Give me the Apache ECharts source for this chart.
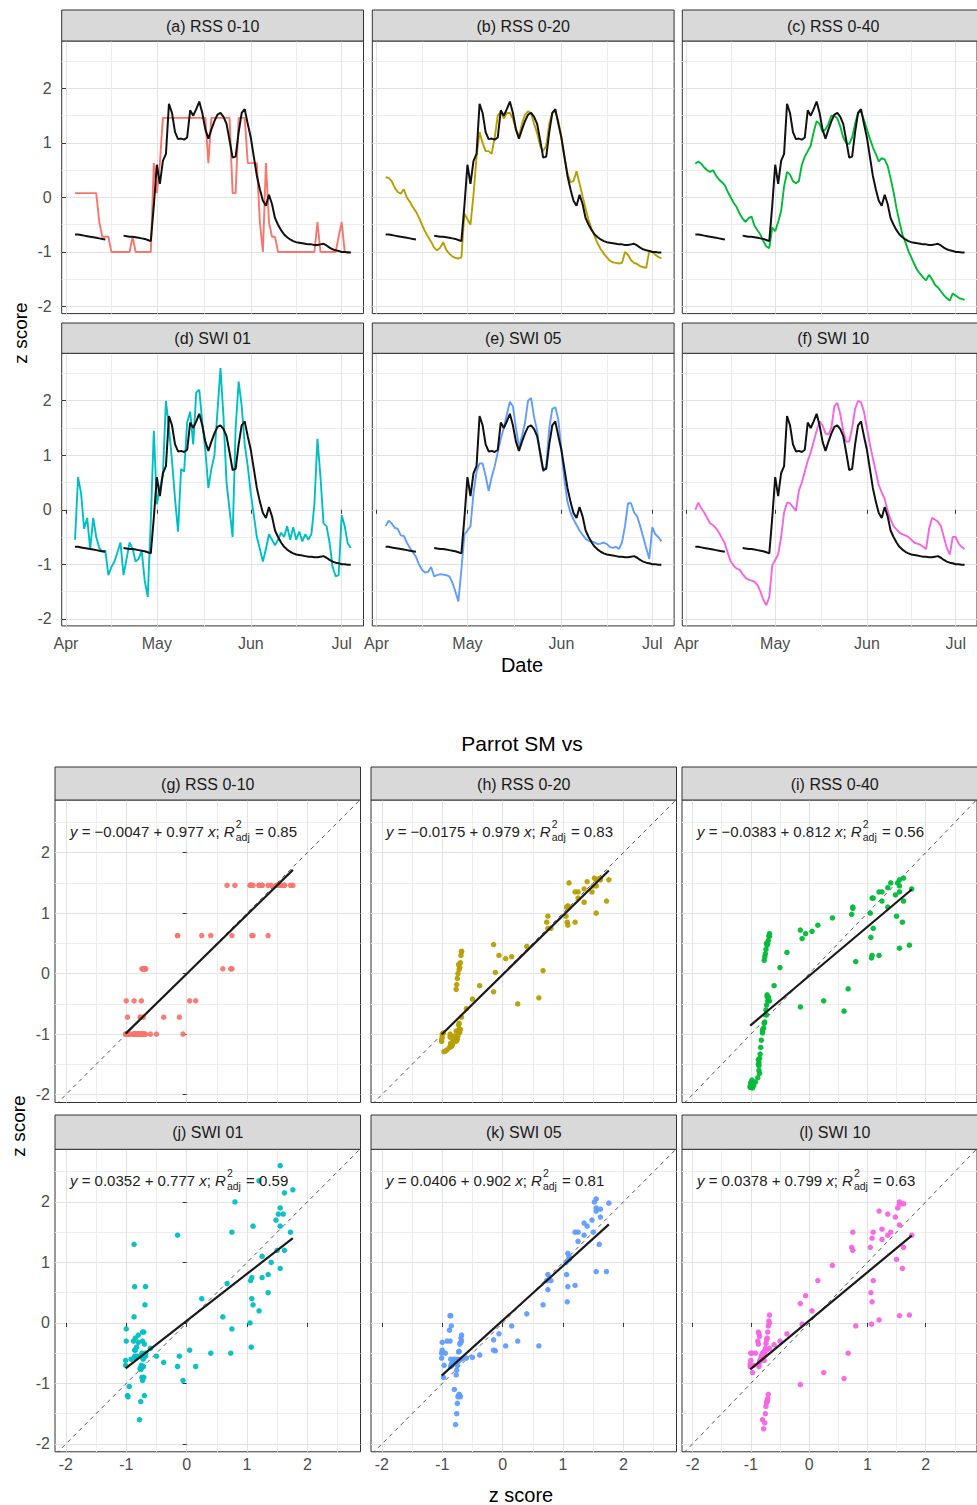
<!DOCTYPE html>
<html><head><meta charset="utf-8">
<script src="https://cdn.jsdelivr.net/npm/echarts@6/dist/echarts.min.js"></script>
<style>html,body{margin:0;padding:0;background:#fff}#c{width:977px;height:1505px}</style>
</head><body><div id="c"></div>
<script>
// ---------------- DATA ----------------
// day offset from 1 April (0 = Apr 1)
const dayIndex = [3,4,5,6,7,8,9,10,11,12,
  13,14,15,16,17,18,19,20,21,22,
  23,24,25,26,27,28,29,30,31,32,
  33,34,35,36,37,38,39,40,41,42,
  43,44,45,46,47,48,49,50,51,52,
  53,54,55,56,57,58,59,60,61,62,
  63,64,65,66,67,68,69,70,71,72,
  73,74,75,76,77,78,79,80,81,82,
  83,84,85,86,87,88,89,90,91,92,
  93,94];
const monthTickDays = [0, 30, 61, 91];
const monthTickLabels = ['Apr', 'May', 'Jun', 'Jul'];
const monthMinorDays = [15, 45.5, 76];
const zTicks = [-2, -1, 0, 1, 2];
const zMinor = [-1.5, -0.5, 0.5, 1.5, 2.5];

const parrotSM = [-0.68,-0.68,-0.69,-0.70,-0.71,-0.72,-0.73,-0.74,-0.75,-0.76,
  -0.77,null,null,null,null,null,-0.70,-0.71,-0.72,-0.72,
  -0.73,-0.74,-0.75,-0.76,-0.78,-0.80,-0.15,0.60,0.25,0.67,
  0.80,1.72,1.55,1.20,1.07,1.08,1.06,1.10,1.60,1.50,
  1.62,1.76,1.55,1.25,1.08,1.25,1.40,1.52,1.55,1.48,
  1.35,1.05,0.73,0.75,1.20,1.55,1.62,1.35,1.10,0.75,
  0.40,0.15,-0.06,-0.15,0.05,-0.12,-0.38,-0.50,-0.60,-0.68,
  -0.73,-0.77,-0.80,-0.82,-0.83,-0.84,-0.85,-0.86,-0.86,-0.87,
  -0.87,-0.86,-0.85,-0.88,-0.92,-0.95,-0.97,-0.98,-1.00,-1.00,
  -1.01,-1.01];

const rss010 = [0.08,0.08,0.08,0.08,0.08,0.08,0.08,0.08,-0.45,-0.72,
  -0.72,-0.72,-1.00,-1.00,-1.00,-1.00,-1.00,-1.00,-1.00,-0.72,
  -1.00,-1.00,-1.00,-1.00,-1.00,-1.00,0.63,0.08,0.63,1.46,
  1.46,1.46,1.46,1.46,1.46,1.46,1.46,1.46,1.46,1.46,
  1.46,1.46,1.46,1.46,0.63,1.46,1.46,1.46,1.46,1.46,
  1.46,1.46,0.08,0.08,1.46,1.46,1.46,0.63,0.63,0.63,
  0.63,-0.45,-1.00,0.63,-0.45,-0.72,-0.72,-1.00,-1.00,-1.00,
  -1.00,-1.00,-1.00,-1.00,-1.00,-1.00,-1.00,-1.00,-1.00,-1.00,
  -0.45,-1.00,-1.00,-1.00,-1.00,-1.00,-1.00,-0.72,-0.45,-1.00,
  -1.00,-1.00];

const rss020 = [0.37,0.36,0.30,0.18,0.10,0.07,0.15,0.00,-0.08,-0.18,
  -0.26,-0.37,-0.50,-0.62,-0.72,-0.81,-0.92,-0.97,-0.92,-0.82,
  -0.96,-1.03,-1.08,-1.11,-1.12,-1.10,-0.30,-0.40,-0.50,0.05,
  0.75,1.20,1.00,0.85,0.85,0.80,1.10,1.50,1.57,1.45,
  1.55,1.55,1.45,1.25,1.12,1.35,1.52,1.58,1.55,1.35,
  1.18,0.95,0.85,0.95,1.35,1.55,1.58,1.40,1.10,0.75,
  0.45,0.28,0.30,0.48,0.25,0.02,-0.20,-0.42,-0.58,-0.72,
  -0.85,-0.95,-1.03,-1.10,-1.16,-1.19,-1.20,-1.21,-1.20,-1.00,
  -1.05,-1.15,-1.20,-1.22,-1.26,-1.28,-1.29,-0.98,-1.00,-1.05,
  -1.09,-1.12];

const rss040 = [0.62,0.66,0.62,0.55,0.50,0.47,0.50,0.40,0.33,0.28,
  0.22,0.10,0.00,-0.10,-0.18,-0.30,-0.39,-0.45,-0.38,-0.35,
  -0.52,-0.60,-0.68,-0.80,-0.90,-0.93,-0.55,-0.62,-0.45,-0.25,
  0.20,0.47,0.42,0.30,0.26,0.30,0.60,0.75,0.85,0.95,
  1.20,1.40,1.35,1.20,1.25,1.35,1.50,1.50,1.45,1.30,
  1.10,1.00,0.98,1.10,1.35,1.55,1.58,1.42,1.25,1.08,
  0.92,0.80,0.66,0.72,0.70,0.58,0.35,0.10,-0.20,-0.45,
  -0.68,-0.82,-0.98,-1.10,-1.22,-1.33,-1.40,-1.47,-1.52,-1.42,
  -1.50,-1.60,-1.65,-1.72,-1.79,-1.85,-1.89,-1.76,-1.80,-1.84,
  -1.86,-1.88];

const swi01 = [-0.55,0.60,0.30,-0.35,-0.15,-0.72,-0.15,-0.50,-0.70,-0.77,
  -0.75,-1.20,-1.05,-0.95,-0.78,-0.60,-1.20,-0.90,-0.60,-0.72,
  -0.95,-0.90,-0.75,-1.30,-1.60,-0.20,1.45,0.10,0.40,0.65,
  2.00,1.50,0.90,0.20,-0.40,0.75,0.70,1.60,1.80,1.20,
  2.15,2.20,1.60,1.10,0.40,0.75,1.00,1.80,2.60,1.70,
  0.50,0.00,-0.50,1.50,2.35,1.90,1.20,0.80,0.30,-0.10,
  -0.50,-0.72,-0.95,-0.72,-0.45,-0.55,-0.65,-0.55,-0.42,-0.50,
  -0.30,-0.55,-0.32,-0.55,-0.40,-0.58,-0.45,-0.55,-0.45,0.10,
  1.30,0.60,-0.25,-0.30,-0.60,-1.05,-1.22,-1.20,-0.10,-0.30,
  -0.62,-0.70];

const swi05 = [-0.30,-0.20,-0.25,-0.33,-0.35,-0.47,-0.48,-0.60,-0.70,-0.78,
  -0.86,-1.00,-1.10,-1.15,-1.14,-1.05,-1.22,-1.20,-1.18,-1.19,
  -1.20,-1.22,-1.33,-1.50,-1.68,-1.10,-0.45,-0.38,-0.30,0.30,
  0.70,0.85,0.85,0.62,0.35,0.60,0.80,1.05,1.30,1.50,
  1.75,1.98,1.90,1.50,1.15,1.35,1.60,2.00,2.05,1.70,
  1.45,1.00,0.70,0.80,1.50,1.85,1.88,1.65,1.10,0.55,
  0.15,-0.05,-0.18,-0.28,-0.38,-0.46,-0.53,-0.57,-0.58,-0.60,
  -0.63,-0.62,-0.60,-0.63,-0.68,-0.70,-0.68,-0.72,-0.60,-0.30,
  0.12,0.12,-0.05,-0.12,-0.30,-0.50,-0.70,-0.90,-0.32,-0.45,
  -0.50,-0.58];

const swi10 = [0.00,0.13,0.03,-0.05,-0.15,-0.25,-0.28,-0.34,-0.42,-0.52,
  -0.62,-0.80,-0.95,-1.03,-1.08,-1.10,-1.18,-1.25,-1.28,-1.30,
  -1.32,-1.38,-1.50,-1.65,-1.75,-1.60,-1.02,-0.92,-0.82,-0.50,
  -0.05,0.13,0.12,0.05,-0.02,0.35,0.50,0.70,0.90,1.05,
  1.25,1.45,1.62,1.55,1.40,1.38,1.50,1.90,1.96,1.75,
  1.45,1.25,1.25,1.50,1.85,2.00,1.97,1.80,1.50,1.20,
  0.95,0.70,0.45,0.32,0.20,-0.02,-0.18,-0.30,-0.36,-0.42,
  -0.45,-0.47,-0.50,-0.55,-0.60,-0.62,-0.64,-0.68,-0.72,-0.35,
  -0.15,-0.18,-0.22,-0.30,-0.50,-0.70,-0.82,-0.50,-0.50,-0.62,
  -0.68,-0.72];

const productNames = ['RSS 0-10', 'RSS 0-20', 'RSS 0-40', 'SWI 01', 'SWI 05', 'SWI 10'];
const tsLetters = ['(a)', '(b)', '(c)', '(d)', '(e)', '(f)'];
const scLetters = ['(g)', '(h)', '(i)', '(j)', '(k)', '(l)'];
const productColors = ['#F8766D', '#B79F00', '#00BA38', '#00BFC4', '#619CFF', '#F564E3'];
const fitIntercept = [-0.0047, -0.0175, -0.0383, 0.0352, 0.0406, 0.0378];
const fitSlope = [0.977, 0.979, 0.812, 0.777, 0.902, 0.799];
const fitR2adj = [0.85, 0.83, 0.56, 0.59, 0.81, 0.63];
const oneToOne = [-3, 3];

const productSeries = [rss010, rss020, rss040, swi01, swi05, swi10];

// ---------------- LAYOUT ----------------
const FONT = '"Liberation Sans", Arial, Helvetica, sans-serif';
const TS = { left: [61.7, 372.3, 682.3], width: 301.8, top: [41, 353.3], height: 272.6,
  stripTop: [10, 323], stripH: [31, 30.3], xMin: -1.4, xMax: 98.2, yMin: -2.13, yMax: 2.87 };
const SC = { left: [55, 371, 682], width: 305.5, top: [800, 1149.3], height: 302.5,
  stripTop: [767, 1115], stripH: [33, 34.3], xMin: -2.18, xMax: 2.88, yMin: -2.13, yMax: 2.87 };

const grids = [], xAxes = [], yAxes = [], series = [], graphics = [];

const mctx = document.createElement('canvas').getContext('2d');
function textW(t, size, italic) {
  mctx.font = (italic ? 'italic ' : '') + size + 'px ' + FONT;
  return mctx.measureText(t).width;
}
function txt(x, y, text, size, opts) {
  opts = opts || {};
  graphics.push({
    type: 'text', x: x, y: y, rotation: opts.rotation || 0, silent: true, z: 100,
    style: { text: text, fill: opts.color || '#000', fontSize: size, fontFamily: FONT,
      fontStyle: opts.italic ? 'italic' : 'normal',
      align: opts.align || 'center', verticalAlign: 'middle' }
  });
}
function strip(left, top, width, height, label) {
  graphics.push({ type: 'rect', silent: true, z: 90,
    shape: { x: left, y: top, width: width, height: height },
    style: { fill: '#D9D9D9', stroke: '#333333', lineWidth: 1 } });
  txt(left + width / 2, top + height / 2 + 0.5, label, 16, { color: '#1A1A1A' });
}

function addAxes(gi, cfg, showX, showY, xTickVals, xTickFmt, xMinorVals, xMargin, yMargin) {
  const tickStyle = { color: '#333333', width: 1 };
  const lblBase = { color: '#4D4D4D', fontSize: 16, fontFamily: FONT };
  const xi = xAxes.length;
  xAxes.push({ gridIndex: gi, type: 'value', min: cfg.xMin, max: cfg.xMax, position: 'bottom',
    axisLine: { show: false },
    axisTick: { show: showX, length: 4, lineStyle: tickStyle, customValues: xTickVals },
    axisLabel: Object.assign({ show: showX, customValues: xTickVals, margin: xMargin, formatter: xTickFmt }, lblBase),
    splitLine: { show: true, lineStyle: { color: '#E2E2E2', width: 1 } } });
  xAxes.push({ gridIndex: gi, type: 'value', min: cfg.xMin, max: cfg.xMax, position: 'top',
    axisLine: { show: false }, axisTick: { show: false, customValues: xMinorVals },
    axisLabel: { show: false, customValues: xMinorVals },
    splitLine: { show: true, lineStyle: { color: '#EDEDED', width: 1 } } });
  const yi = yAxes.length;
  yAxes.push({ gridIndex: gi, type: 'value', min: cfg.yMin, max: cfg.yMax, position: 'left',
    axisLine: { show: false },
    axisTick: { show: showY, length: 4, lineStyle: tickStyle, customValues: zTicks },
    axisLabel: Object.assign({ show: showY, customValues: zTicks, margin: yMargin, formatter: v => String(v) }, lblBase),
    splitLine: { show: true, lineStyle: { color: '#E2E2E2', width: 1 } } });
  yAxes.push({ gridIndex: gi, type: 'value', min: cfg.yMin, max: cfg.yMax, position: 'right',
    axisLine: { show: false }, axisTick: { show: false, customValues: zMinor },
    axisLabel: { show: false, customValues: zMinor },
    splitLine: { show: true, lineStyle: { color: '#EDEDED', width: 1 } } });
  return { xi: xi, yi: yi };
}

function lineData(vals) {
  return dayIndex.map((d, i) => [d, vals[i] === null ? '-' : vals[i]]);
}

// ---------------- TIME SERIES PANELS ----------------
for (let p = 0; p < 6; p++) {
  const row = Math.floor(p / 3), col = p % 3;
  const gi = grids.length;
  grids.push({ left: TS.left[col], top: TS.top[row], width: TS.width, height: TS.height,
    show: true, borderColor: '#333333', borderWidth: 1, backgroundColor: '#fff' });
  const ax = addAxes(gi, TS, row === 1, col === 0, monthTickDays,
    v => monthTickLabels[monthTickDays.indexOf(v)], monthMinorDays, 10, 10);
  series.push({ type: 'line', xAxisIndex: ax.xi, yAxisIndex: ax.yi, data: lineData(productSeries[p]),
    showSymbol: false, connectNulls: false, clip: true, silent: true,
    lineStyle: { color: productColors[p], width: 1.9 }, z: 3 });
  series.push({ type: 'line', xAxisIndex: ax.xi, yAxisIndex: ax.yi, data: lineData(parrotSM),
    showSymbol: false, connectNulls: false, clip: true, silent: true,
    lineStyle: { color: '#111111', width: 2 }, z: 4 });
  strip(TS.left[col], TS.stripTop[row], TS.width, TS.stripH[row], tsLetters[p] + ' ' + productNames[p]);
}

// ---------------- SCATTER PANELS ----------------
function eqText(p, x0, y0) {
  const a = fitIntercept[p], b = fitSlope[p], r = fitR2adj[p];
  const segs = [
    { t: 'y', it: true },
    { t: ' = ' + (a < 0 ? '\u2212' : '') + Math.abs(a).toFixed(4) + ' + ' + b.toFixed(3) + ' ' },
    { t: 'x', it: true },
    { t: '; ' },
    { t: 'R', it: true },
    { sup: '2', sub: 'adj' },
    { t: ' = ' + r.toFixed(2) }
  ];
  let cx = x0;
  const size = 15, small = 10.5, col = '#222222';
  segs.forEach(s => {
    if (s.sup) {
      txt(cx + 1, y0 - 8, s.sup, small, { align: 'left', color: col });
      txt(cx + 1, y0 + 5, s.sub, small, { align: 'left', color: col });
      cx += Math.max(textW(s.sup, small), textW(s.sub, small)) + 2;
    } else {
      txt(cx, y0, s.t, size, { align: 'left', color: col, italic: !!s.it });
      cx += textW(s.t, size, !!s.it);
    }
  });
}

for (let p = 0; p < 6; p++) {
  const row = Math.floor(p / 3), col = p % 3;
  const gi = grids.length;
  grids.push({ left: SC.left[col], top: SC.top[row], width: SC.width, height: SC.height,
    show: true, borderColor: '#333333', borderWidth: 1, backgroundColor: '#fff' });
  const ax = addAxes(gi, SC, row === 1, col === 0, zTicks, v => String(v), zMinor, 5, 5);
  const pts = [];
  const vals = productSeries[p];
  dayIndex.forEach((d, i) => {
    if (parrotSM[i] !== null && vals[i] !== null) pts.push([parrotSM[i], vals[i]]);
  });
  const xs = pts.map(q => q[0]);
  const xlo = Math.min.apply(null, xs), xhi = Math.max.apply(null, xs);
  series.push({ type: 'line', xAxisIndex: ax.xi, yAxisIndex: ax.yi,
    data: [[oneToOne[0], oneToOne[0]], [oneToOne[1], oneToOne[1]]],
    showSymbol: false, clip: true, silent: true,
    lineStyle: { color: '#444444', width: 0.9, type: [4, 4] }, z: 2 });
  series.push({ type: 'scatter', xAxisIndex: ax.xi, yAxisIndex: ax.yi, data: pts,
    symbolSize: 5.5, silent: true, itemStyle: { color: productColors[p], opacity: 0.95 }, z: 3 });
  series.push({ type: 'line', xAxisIndex: ax.xi, yAxisIndex: ax.yi,
    data: [[xlo, fitIntercept[p] + fitSlope[p] * xlo], [xhi, fitIntercept[p] + fitSlope[p] * xhi]],
    showSymbol: false, clip: true, silent: true,
    lineStyle: { color: '#1A1A1A', width: 2.2 }, z: 4 });
  strip(SC.left[col], SC.stripTop[row], SC.width, SC.stripH[row], scLetters[p] + ' ' + productNames[p]);
  eqText(p, SC.left[col] + 15, SC.top[row] + 31.5);
}

// ---------------- TITLES ----------------
txt(20, 333, 'z score', 19, { rotation: Math.PI / 2 });
txt(522, 665, 'Date', 20);
txt(522, 743, 'Parrot SM vs', 21);
txt(18, 1126, 'z score', 19, { rotation: Math.PI / 2 });
txt(521, 1495, 'z score', 20);

const chart = echarts.init(document.getElementById('c'), null, { renderer: 'svg', width: 977, height: 1505 });
chart.setOption({
  animation: false,
  backgroundColor: '#ffffff',
  grid: grids,
  xAxis: xAxes,
  yAxis: yAxes,
  series: series,
  graphic: { elements: graphics }
});
</script>
</body></html>
